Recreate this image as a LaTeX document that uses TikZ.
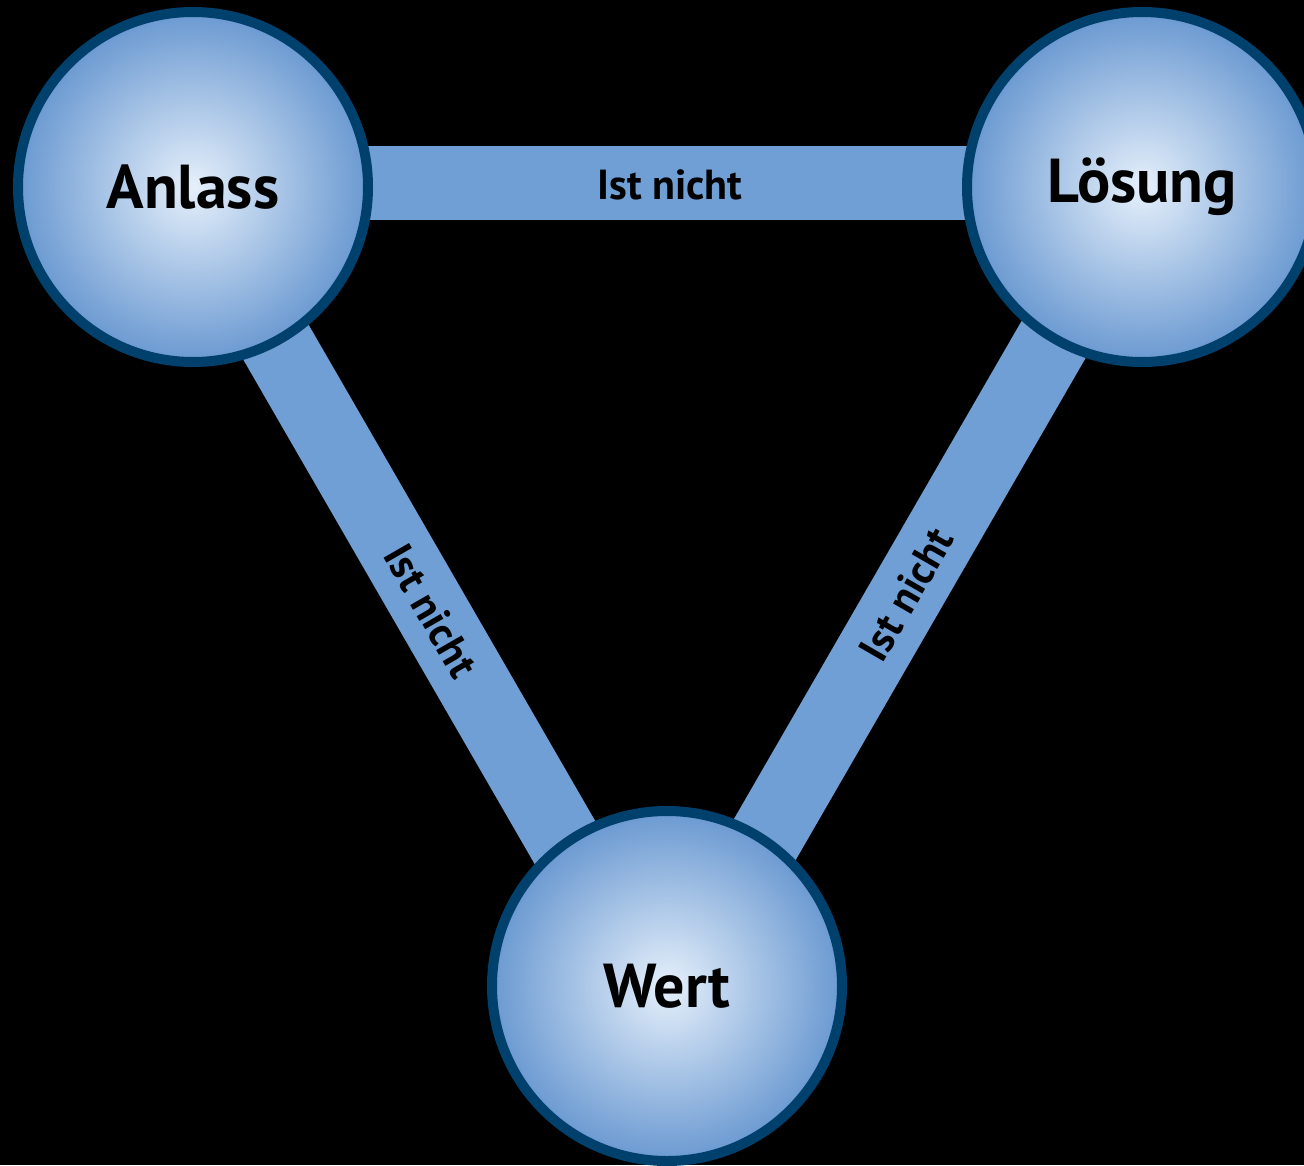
\documentclass[tikz,border=0pt]{standalone}
\usepackage{fontspec}
\setmainfont{PT Sans}
\usetikzlibrary{calc}
\definecolor{barblue}{HTML}{6F9FD5}
\definecolor{ringblue}{HTML}{00406C}
\definecolor{ballin}{HTML}{E6F0FB}
\definecolor{ballout}{HTML}{6A99D1}
\begin{document}
\begin{tikzpicture}[x=1pt,y=-1pt,
  ball/.style={circle, draw=ringblue, line width=10pt, minimum size=350pt,
    inner color=ballin, outer color=ballout, text=black,
    font=\bfseries\fontsize{62}{70}\selectfont},
  barline/.style={draw=barblue, line width=74pt},
  lab/.style={text=black, inner sep=0pt, font=\bfseries\fontsize{42}{48}\selectfont}]
\useasboundingbox (0,0) rectangle (1304,1165);
\clip (0,0) rectangle (1304,1165);
\fill[black] (0,0) rectangle (1304,1165);
% triangle of the bars
\coordinate (tA) at (184,183);
\coordinate (tL) at (1144,183);
\coordinate (tW) at (664,1014);
\draw[barline] (tA) -- (tL);
\draw[barline] (tA) -- (tW);
\draw[barline] (tL) -- (tW);
\node[lab] (l1) at ($(tA)!0.5!(tL)+(6,2)$) {Ist nicht};
\node[lab, rotate=-60] (l2) at ($(tA)!0.515!(tW)$) {Ist nicht};
\node[lab, rotate=60] (l3) at ($(tL)!0.495!(tW)$) {Ist nicht};
% circles
\node[ball] (A) at (193,187) {Anlass};
\node[ball] (L) at (1142,187) {Lösung};
\node[ball] (W) at (667,986) {Wert};
\end{tikzpicture}
\end{document}
